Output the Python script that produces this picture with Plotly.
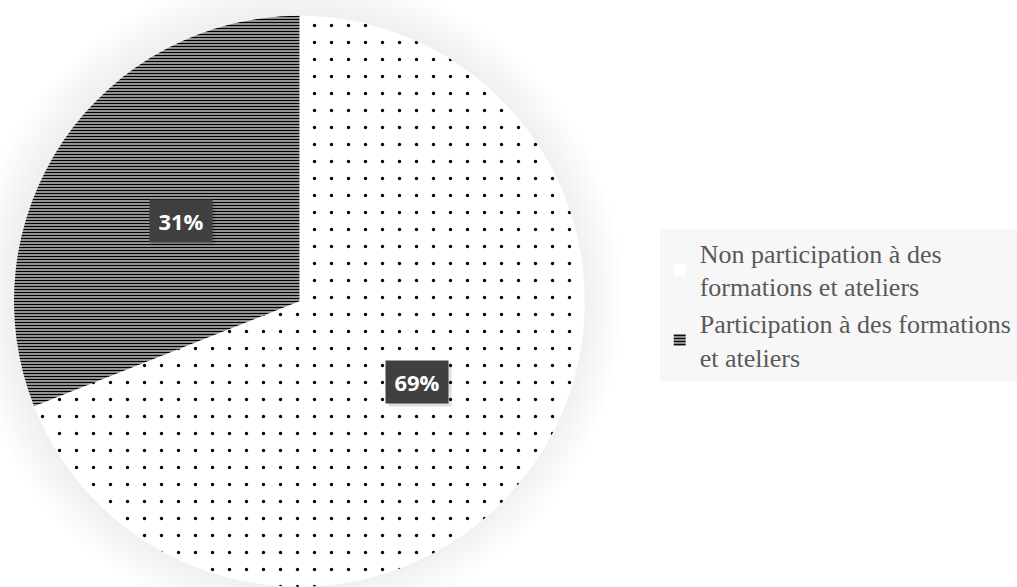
import math
import plotly.graph_objects as go

# Share of respondents by participation in trainings / workshops
labels = [
    "Non participation à des<br>formations et ateliers",
    "Participation à des formations<br>et ateliers",
]
values = [69, 31]
pct_text = ["69%", "31%"]

W, H = 1017, 587
# pie placement in pixels
CX, CY, R = 300, 301.5, 286

fig = go.Figure()

fig.add_trace(go.Pie(
    labels=labels,
    values=values,
    sort=False,
    direction="clockwise",
    rotation=0,
    textinfo="none",
    hoverinfo="label+percent",
    marker=dict(
        colors=["white", "white"],
        line=dict(width=0),
        pattern=dict(
            shape=[".", "-"],
            fgcolor="black",
            bgcolor="white",
            fgopacity=1,
            size=[17, 3],
            solidity=[0.03, 0.62],
            fillmode="replace",
        ),
    ),
    domain=dict(x=[(CX - R) / W, (CX + R) / W], y=[max(0, 1 - (CY + R) / H), 1 - (CY - R) / H]),
))

# soft glow behind the pie
shapes = []
for k in range(1, 16):
    rr = R + k * 2.8
    ox, oy = -3, -3
    shapes.append(dict(
        type="circle", xref="paper", yref="paper", layer="below",
        x0=(CX + ox - rr) / W, x1=(CX + ox + rr) / W,
        y0=1 - (CY + oy + rr) / H, y1=1 - (CY + oy - rr) / H,
        fillcolor="rgba(0,0,0,0.0052)", line=dict(width=0),
    ))

# value boxes at half radius on each slice's mid angle
annotations = []
total = sum(values)
start = 0.0
for v, t in zip(values, pct_text):
    mid = (start + v / 2) / total * 2 * math.pi
    start += v
    px = CX + 0.5 * R * math.sin(mid)
    py = CY - 0.5 * R * math.cos(mid)
    annotations.append(dict(
        x=(px + 3) / W, y=1 - (py + 3) / H, xref="paper", yref="paper",
        xanchor="center", yanchor="middle",
        text=" ", showarrow=False, width=62, height=42, borderpad=0,
        bgcolor="rgba(0,0,0,0.12)",
    ))
    annotations.append(dict(
        x=px / W, y=1 - py / H, xref="paper", yref="paper",
        xanchor="center", yanchor="middle",
        text="<b>%s</b>" % t, showarrow=False, width=62, height=42, borderpad=0,
        bgcolor="#404040", font=dict(family="Open Sans", size=22, color="white"),
    ))

fig.update_layout(
    width=W, height=H,
    margin=dict(l=0, r=0, t=0, b=0),
    paper_bgcolor="white",
    plot_bgcolor="white",
    shapes=shapes,
    annotations=annotations,
    showlegend=True,
    legend=dict(
        x=661 / W, y=1 - 229 / H, xanchor="left", yanchor="top",
        bgcolor="#f7f7f7",
        font=dict(family="Liberation Serif", size=26, color="#595959"),
        itemsizing="constant",
        tracegroupgap=0,
    ),
)

fig.write_html("out.html")
